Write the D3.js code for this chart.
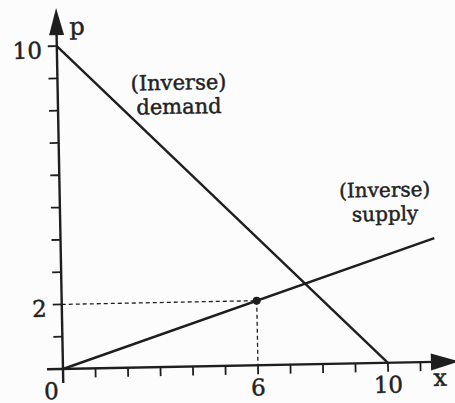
<!DOCTYPE html>
<html>
<head>
<meta charset="utf-8">
<script src="https://cdn.jsdelivr.net/npm/d3@7/dist/d3.min.js"></script>
<style>
  html, body { margin: 0; padding: 0; background: #fcfcfd; }
  svg { display: block; }
  text { font-family: "DejaVu Serif", "Liberation Serif", serif; fill: #222; stroke: #222; stroke-width: 0.45px; }
</style>
</head>
<body>
<svg id="chart" width="455" height="403"></svg>
<script>
// Quantity (x) and price (p) axes
const xTicks = [1, 2, 3, 4, 5, 6, 7, 8, 9, 10, 11];
const yTicks = [1, 2, 3, 4, 5, 6, 7, 8, 9, 10];
const xTickLabels = [0, 6, 10];
const yTickLabels = [2, 10];

// Inverse demand p = 10 - x, inverse supply p = x / 3
const demandX = [0, 10];
const demandP = [10, 0];
const supplyX = [0, 11.5];
const supplyP = [0, 3.833];

// Marked point on the supply curve
const pointX = [6];
const pointP = [2];

const demandLabel = ["(Inverse)", "demand"];
const supplyLabel = ["(Inverse)", "supply"];

const ink = "#1e1e1e";
const svg = d3.select("#chart");
const ox = 63, oy = 369;

const x = d3.scaleLinear().domain([0, 10]).range([0, 325]);
const y = d3.scaleLinear().domain([0, 10]).range([0, -323]);

// whole figure sits slightly tilted, pivoting on the origin
const g = svg.append("g")
  .attr("transform", `translate(${ox},${oy}) rotate(-1.1)`);

// axes
g.append("line").attr("x1", -16).attr("y1", 0).attr("x2", 372).attr("y2", 0)
  .attr("stroke", ink).attr("stroke-width", 2.4);
g.append("line").attr("x1", 0).attr("y1", 14).attr("x2", 0).attr("y2", -338)
  .attr("stroke", ink).attr("stroke-width", 2.4);

// arrowheads
g.append("path").attr("d", "M0,-361 L-7.5,-334 L7.5,-334 Z").attr("fill", ink);
g.append("path").attr("d", "M396,0 L368,-8.5 L368,8.5 Z").attr("fill", ink);

// tick marks
g.selectAll(".xt").data(xTicks).join("line").attr("class", "xt")
  .attr("x1", d => x(d)).attr("x2", d => x(d))
  .attr("y1", 0).attr("y2", 9)
  .attr("stroke", ink).attr("stroke-width", 1.8);
g.selectAll(".yt").data(yTicks).join("line").attr("class", "yt")
  .attr("x1", -9).attr("x2", 0)
  .attr("y1", d => y(d)).attr("y2", d => y(d))
  .attr("stroke", ink).attr("stroke-width", 1.8);

// tick labels
g.selectAll(".xl").data(xTickLabels).join("text").attr("class", "xl")
  .attr("x", d => d === 0 ? -12 : x(d))
  .attr("y", 30)
  .attr("text-anchor", "middle")
  .attr("font-size", 23)
  .text(d => d);
g.selectAll(".yl").data(yTickLabels).join("text").attr("class", "yl")
  .attr("x", -15)
  .attr("y", d => y(d) + 12)
  .attr("text-anchor", "end")
  .attr("font-size", 23)
  .text(d => d);

// axis names
g.append("text").attr("x", 13).attr("y", -334).attr("font-size", 24).text("p");
g.append("text").attr("x", 370).attr("y", 24).attr("font-size", 24).text("x");

// dashed guides to the marked point
g.append("line")
  .attr("x1", 0).attr("y1", y(pointP[0])).attr("x2", x(pointX[0])).attr("y2", y(pointP[0]))
  .attr("stroke", ink).attr("stroke-width", 1.3).attr("stroke-dasharray", "4,3");
g.append("line")
  .attr("x1", x(pointX[0])).attr("y1", y(pointP[0])).attr("x2", x(pointX[0])).attr("y2", 0)
  .attr("stroke", ink).attr("stroke-width", 1.3).attr("stroke-dasharray", "4,3");

// curves
const line = d3.line().x(d => x(d[0])).y(d => y(d[1]));
g.append("path").datum(d3.zip(demandX, demandP)).attr("d", line)
  .attr("fill", "none").attr("stroke", ink).attr("stroke-width", 2.4);
g.append("path").datum(d3.zip(supplyX, supplyP)).attr("d", line)
  .attr("fill", "none").attr("stroke", ink).attr("stroke-width", 2.4);

// marked point
g.selectAll(".pt").data(d3.zip(pointX, pointP)).join("circle").attr("class", "pt")
  .attr("cx", d => x(d[0])).attr("cy", d => y(d[1])).attr("r", 4)
  .attr("fill", ink);

// curve labels
const dl = g.append("text").attr("font-size", 21).attr("text-anchor", "middle");
dl.selectAll("tspan").data(demandLabel).join("tspan")
  .attr("x", 121).attr("y", (d, i) => -277 + i * 24).text(d => d);
const sl = g.append("text").attr("font-size", 20).attr("text-anchor", "middle");
sl.selectAll("tspan").data(supplyLabel).join("tspan")
  .attr("x", 325).attr("y", (d, i) => -166 + i * 24).text(d => d);
</script>
</body>
</html>
